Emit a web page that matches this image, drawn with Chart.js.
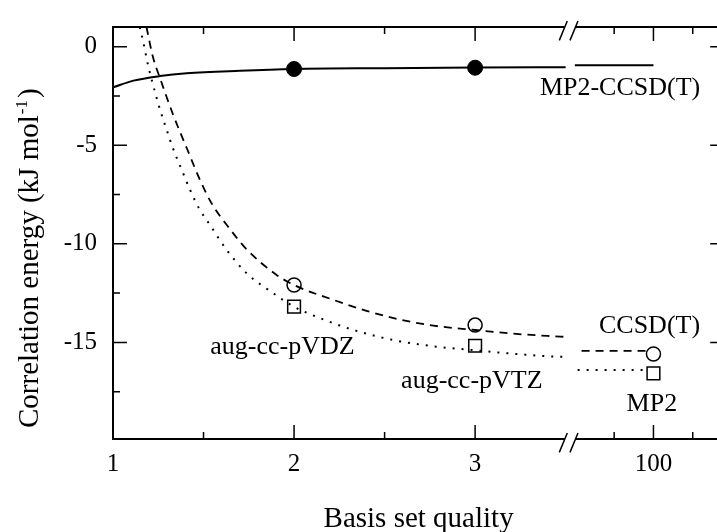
<!DOCTYPE html>
<html>
<head>
<meta charset="utf-8">
<script src="https://cdn.jsdelivr.net/npm/chart.js@4.4.0/dist/chart.umd.min.js"></script>
<style>
  html, body { margin: 0; padding: 0; background: #fff; }
  canvas { display: block; }
</style>
</head>
<body>
<canvas id="chart" width="717" height="532"></canvas>
<script>
// Basis set quality: 2 = aug-cc-pVDZ, 3 = aug-cc-pVTZ, 100 = basis-set limit
const basisX = [2, 3, 100];
const ccsdtEnergy = [-12.09, -14.12, -15.59];   // CCSD(T), kJ/mol
const mp2Energy   = [-13.19, -15.17, -16.57];   // MP2, kJ/mol
const diffX = [2, 3];
const diffEnergy  = [-1.13, -1.065];            // MP2 - CCSD(T), kJ/mol

// Extrapolation curves below the axis break
const ccsdtCurveX = [1.185, 1.22, 1.26, 1.33, 1.41, 1.48, 1.545, 1.65, 1.74, 1.90, 2.0, 2.22, 2.40, 2.59, 2.77, 3.0, 3.2, 3.4, 3.5];
const ccsdtCurveY = [1.0, -0.5, -1.6, -3.4, -5.2, -6.75, -7.95, -9.3, -10.3, -11.55, -12.09, -12.85, -13.4, -13.85, -14.15, -14.37, -14.55, -14.67, -14.72];
const mp2CurveX = [1.148, 1.167, 1.195, 1.219, 1.26, 1.297, 1.333, 1.38, 1.425, 1.475, 1.536, 1.628, 1.739, 1.886, 2.0, 2.125, 2.328, 2.549, 2.77, 3.0, 3.14, 3.4, 3.5];
const mp2CurveY = [1.0, 0.25, -1.0, -1.86, -3.2, -4.23, -5.2, -6.26, -7.25, -8.2, -9.05, -10.31, -11.5, -12.51, -13.19, -13.7, -14.37, -14.88, -15.2, -15.4, -15.52, -15.7, -15.74];
const diffCurveX = [1.0, 1.113, 1.26, 1.407, 1.70, 2.0, 2.5, 3.0, 3.5];
const diffCurveY = [-2.06, -1.72, -1.49, -1.35, -1.22, -1.13, -1.09, -1.06, -1.04];

// Limit segments beyond the break
const diffLimitX = [80, 100];   const diffLimitY = [-0.94, -0.94];
const ccsdtLimitX = [81.7, 98.1]; const ccsdtLimitY = [-15.43, -15.43];
const mp2LimitX = [80.7, 97.9];   const mp2LimitY = [-16.40, -16.40];

// Axis ticks
const xTickValues = [1, 2, 3, 100];
const xTickLabels = ['1', '2', '3', '100'];
const xMinorTicks = [1.5, 2.5, 90, 110];
const yTickValues = [0, -5, -10, -15];
const yMinorTicks = [-2.5, -7.5, -12.5, -17.5];

// Text labels (placed in data coordinates)
const labelTexts = ['MP2-CCSD(T)', 'CCSD(T)', 'MP2', 'aug-cc-pVDZ', 'aug-cc-pVTZ'];
const labelX = [91.5, 99.0, 99.6, 1.936, 2.982];
const labelY = [-2.11, -14.20, -18.13, -15.22, -16.99];

// Broken x axis: qualities up to BREAK are linear, the limit region is compressed
const BREAK = 3.5;
const BREAK_MARK = 3.5185;
const LIMIT_POS = 3.985;
const LIMIT_SCALE = 0.0217;
const FRAME_RIGHT = 118;
function pos(q) { return q <= BREAK ? q : LIMIT_POS + (q - 100) * LIMIT_SCALE; }

const pts = (xs, ys) => xs.map((v, i) => ({ x: pos(v), y: ys[i] }));
const FONT = '"Liberation Serif", "Times New Roman", serif';

const lineBase = { showLine: true, pointRadius: 0, borderColor: '#000', fill: false, cubicInterpolationMode: 'monotone' };

function noPadding(s) {
  s.paddingLeft = 0; s.paddingRight = 0; s.paddingTop = 0; s.paddingBottom = 0;
}

const frame = {
  id: 'frame',
  afterDraw(chart) {
    const { ctx, chartArea: a, scales: { x, y } } = chart;
    const left = x.getPixelForValue(1);
    const right = x.getPixelForValue(pos(FRAME_RIGHT));
    const top = a.top, bottom = a.bottom;
    const brk = x.getPixelForValue(BREAK_MARK);
    ctx.save();
    ctx.strokeStyle = '#000';
    ctx.lineCap = 'butt';
    ctx.lineWidth = 2;
    ctx.beginPath();
    ctx.moveTo(left, top - 1); ctx.lineTo(left, bottom + 1);
    ctx.moveTo(right, top - 1); ctx.lineTo(right, bottom + 1);
    [top, bottom].forEach(yy => {
      ctx.moveTo(left - 1, yy); ctx.lineTo(brk - 4.5, yy);
      ctx.moveTo(brk + 6.5, yy); ctx.lineTo(right + 1, yy);
    });
    ctx.stroke();

    ctx.lineWidth = 1.5;
    ctx.beginPath();
    const xTick = (q, len) => {
      const px = x.getPixelForValue(pos(q));
      ctx.moveTo(px, bottom); ctx.lineTo(px, bottom - len);
      ctx.moveTo(px, top); ctx.lineTo(px, top + len);
    };
    const yTick = (v, len) => {
      const py = y.getPixelForValue(v);
      ctx.moveTo(left, py); ctx.lineTo(left + len, py);
      ctx.moveTo(right, py); ctx.lineTo(right - len, py);
    };
    xTickValues.slice(1).forEach(q => xTick(q, 14));
    xMinorTicks.forEach(q => xTick(q, 7));
    yTickValues.forEach(v => yTick(v, 14));
    yMinorTicks.forEach(v => yTick(v, 7));
    // break marks
    [top, bottom].forEach(yy => {
      [-9.7, 1].forEach(off => {
        ctx.moveTo(brk + off, yy + 13.4);
        ctx.lineTo(brk + off + 8, yy - 6);
      });
    });
    ctx.stroke();

    // curve labels
    ctx.fillStyle = '#000';
    ctx.font = '26px ' + FONT;
    ctx.textAlign = 'center';
    ctx.textBaseline = 'middle';
    labelTexts.forEach((t, i) => {
      ctx.fillText(t, x.getPixelForValue(pos(labelX[i])), y.getPixelForValue(labelY[i]));
    });

    // x axis title
    ctx.font = '29px ' + FONT;
    ctx.textBaseline = 'alphabetic';
    ctx.fillText('Basis set quality', (left + right) / 2, 526.7);

    // y axis title with superscript
    ctx.translate(37.5, 428);
    ctx.rotate(-Math.PI / 2);
    ctx.textAlign = 'left';
    const main = 'Correlation energy (kJ mol';
    ctx.fillText(main, 0, 0);
    let w = ctx.measureText(main).width;
    ctx.font = '17px ' + FONT;
    ctx.fillText('-1', w + 1, -11);
    w += ctx.measureText('-1').width + 3;
    ctx.font = '29px ' + FONT;
    ctx.fillText(')', w, 0);
    ctx.restore();
  }
};

new Chart(document.getElementById('chart'), {
  type: 'scatter',
  data: {
    datasets: [
      { ...lineBase, data: pts(diffCurveX, diffCurveY), borderWidth: 2 },
      { ...lineBase, data: pts(diffLimitX, diffLimitY), borderWidth: 2 },
      { ...lineBase, data: pts(ccsdtCurveX, ccsdtCurveY), borderWidth: 1.8, borderDash: [8, 6] },
      { ...lineBase, data: pts(ccsdtLimitX, ccsdtLimitY), borderWidth: 1.8, borderDash: [8, 6] },
      { ...lineBase, data: pts(mp2CurveX, mp2CurveY), borderWidth: 2, borderDash: [2, 7] },
      { ...lineBase, data: pts(mp2LimitX, mp2LimitY), borderWidth: 2, borderDash: [2, 7] },
      { data: pts(diffX, diffEnergy), pointStyle: 'circle', pointRadius: 7.5, backgroundColor: '#000', borderColor: '#000', borderWidth: 1 },
      { data: pts(basisX, ccsdtEnergy), pointStyle: 'circle', pointRadius: 7, backgroundColor: 'rgba(0,0,0,0)', borderColor: '#000', borderWidth: 1.5 },
      { data: pts(basisX, mp2Energy), pointStyle: 'rect', pointRadius: 9, backgroundColor: 'rgba(0,0,0,0)', borderColor: '#000', borderWidth: 1.5 }
    ]
  },
  options: {
    responsive: false,
    animation: false,
    devicePixelRatio: 1,
    layout: { autoPadding: false, padding: { top: 27, right: 0, left: 0, bottom: 0 } },
    plugins: { legend: { display: false }, tooltip: { enabled: false } },
    scales: {
      x: {
        type: 'linear',
        min: 1,
        max: 4.336,
        grid: { display: false, drawTicks: false },
        border: { display: false },
        afterBuildTicks: s => { s.ticks = xTickValues.map(v => ({ value: pos(v) })); },
        afterFit: s => { s.height = 93; noPadding(s); },
        ticks: {
          autoSkip: false, maxRotation: 0, padding: 10,
          color: '#000', font: { family: FONT, size: 25 },
          callback: (v, i) => xTickLabels[i]
        }
      },
      y: {
        type: 'linear',
        min: -19.9,
        max: 1.0,
        grid: { display: false, drawTicks: false },
        border: { display: false },
        afterBuildTicks: s => { s.ticks = yTickValues.map(v => ({ value: v })); },
        afterFit: s => { s.width = 113; noPadding(s); },
        ticks: {
          padding: 16,
          color: '#000', font: { family: FONT, size: 25 },
          callback: v => String(v)
        }
      }
    }
  },
  plugins: [frame]
});
</script>
</body>
</html>
